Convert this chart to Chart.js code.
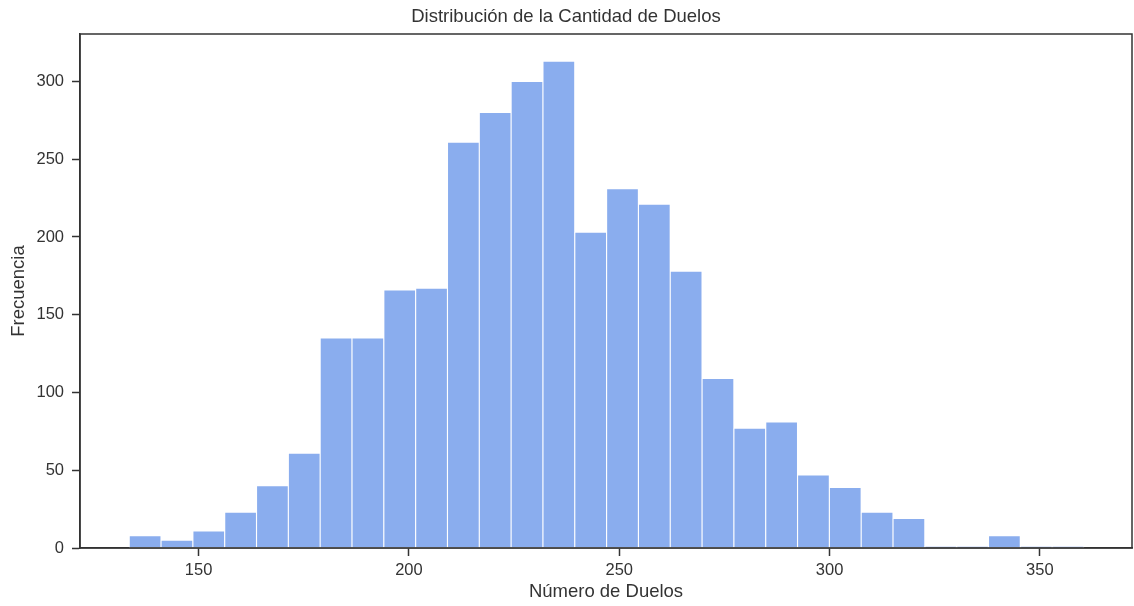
<!DOCTYPE html>
<html>
<head>
<meta charset="utf-8">
<script src="https://cdn.jsdelivr.net/npm/chart.js@4.4.1/dist/chart.umd.min.js"></script>
<style>
  html, body { margin: 0; padding: 0; background: #ffffff; }
  #wrap { width: 1134px; height: 606px; }
</style>
</head>
<body>
<div id="wrap"><canvas id="hist" width="1134" height="606"></canvas></div>
<script>
// Histogram of the number of duels: 30 equal-width bins
const binStart = 133.5;
const binWidth = 7.566;
const frequencies = [8, 5, 11, 23, 40, 61, 135, 135, 166, 167, 261, 280, 300, 313, 203,
                     231, 221, 178, 109, 77, 81, 47, 39, 23, 19, 1, 1, 8, 1, 1];
const xTicks = [150, 200, 250, 300, 350];
const yTicks = [0, 50, 100, 150, 200, 250, 300];

const titleText = 'Distribución de la Cantidad de Duelos';
const xTitle = 'Número de Duelos';
const yTitle = 'Frecuencia';

const ink = '#333333';
const fontFamily = '"Liberation Sans", Arial, sans-serif';

// bar centres of each bin
const points = frequencies.map((f, i) => ({ x: binStart + binWidth * (i + 0.5), y: f }));

// full box around the plotting area
const frameBox = {
  id: 'frameBox',
  afterDatasetsDraw(chart) {
    const { ctx, chartArea: a } = chart;
    ctx.save();
    ctx.strokeStyle = ink;
    ctx.lineWidth = 1.5;
    ctx.strokeRect(a.left, a.top, a.right - a.left, a.bottom - a.top);
    ctx.restore();
  }
};

new Chart(document.getElementById('hist'), {
  type: 'bar',
  data: {
    datasets: [{
      data: points,
      backgroundColor: 'rgb(138, 173, 238)',
      borderColor: '#ffffff',
      borderWidth: 0.9,
      borderSkipped: false,
      barPercentage: 1,
      categoryPercentage: 1,
      grouped: false
    }]
  },
  options: {
    responsive: false,
    animation: false,
    layout: { padding: { left: 0, right: 2, top: 0, bottom: 0 } },
    plugins: {
      legend: { display: false },
      tooltip: { enabled: false },
      title: {
        display: true,
        text: titleText,
        color: ink,
        font: { family: fontFamily, size: 18.5, weight: 'normal', lineHeight: 1.2 },
        padding: { top: 5.9, bottom: 5.9 }
      }
    },
    scales: {
      x: {
        type: 'linear',
        min: 121.8,
        max: 371.9,
        offset: false,
        afterBuildTicks(scale) { scale.ticks = xTicks.map(v => ({ value: v })); },
        afterFit(scale) { scale.height = 58; },
        grid: {
          display: true,
          offset: false,
          drawOnChartArea: false,
          drawTicks: true,
          tickLength: 8,
          tickWidth: 1.5,
          tickColor: ink
        },
        border: { display: true, color: ink, width: 1.5 },
        ticks: {
          color: ink,
          padding: 5,
          maxRotation: 0,
          autoSkip: false,
          font: { family: fontFamily, size: 16.5 }
        },
        title: {
          display: true,
          text: xTitle,
          color: ink,
          font: { family: fontFamily, size: 18.5, lineHeight: 1.2 },
          padding: { top: 0, bottom: 3.2 }
        }
      },
      y: {
        type: 'linear',
        min: 0,
        max: 330.5,
        afterBuildTicks(scale) { scale.ticks = yTicks.map(v => ({ value: v })); },
        afterFit(scale) { scale.width = 80; },
        grid: {
          display: true,
          drawOnChartArea: false,
          drawTicks: true,
          tickLength: 8,
          tickWidth: 1.5,
          tickColor: ink
        },
        border: { display: true, color: ink, width: 1.5 },
        ticks: {
          color: ink,
          padding: 8,
          autoSkip: false,
          font: { family: fontFamily, size: 16.5 }
        },
        title: {
          display: true,
          text: yTitle,
          color: ink,
          font: { family: fontFamily, size: 18.5, lineHeight: 1.2 },
          padding: { top: 8, bottom: 0 }
        }
      }
    }
  },
  plugins: [frameBox]
});
</script>
</body>
</html>
